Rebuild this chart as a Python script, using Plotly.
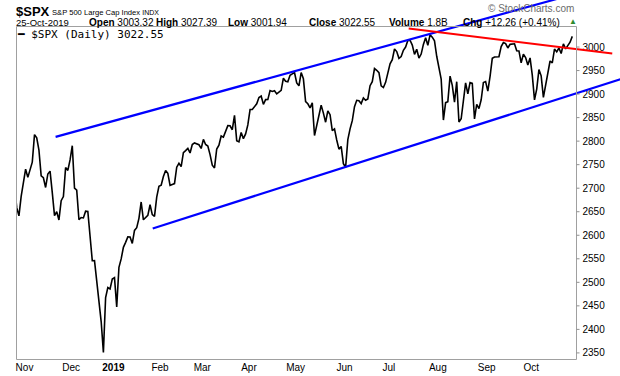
import plotly.graph_objects as go

# ---------------- DATA ----------------
# $SPX daily closes, 24-Oct-2018 .. 25-Oct-2019 (one value per trading day)
closes_2018_oct = [2656.10, 2705.57, 2658.69, 2641.25, 2682.63, 2711.74]
closes_2018_nov = [2740.37, 2723.06, 2738.31, 2755.45, 2813.89, 2806.83, 2781.01, 2726.22, 2722.18, 2701.58,
                   2730.20, 2736.27, 2690.73, 2641.89, 2649.93, 2632.56, 2673.45, 2682.17, 2743.79, 2737.80, 2760.17]
closes_2018_dec = [2790.37, 2700.06, 2695.95, 2633.08, 2637.72, 2636.78, 2651.07, 2650.54, 2599.95, 2545.94,
                   2546.16, 2506.96, 2467.42, 2416.62, 2351.10, 2467.70, 2488.83, 2485.74, 2506.85]
closes_2019_jan = [2510.03, 2447.89, 2531.94, 2549.69, 2574.41, 2584.96, 2596.64, 2596.26, 2582.61, 2610.30,
                   2616.10, 2635.96, 2670.71, 2632.90, 2638.70, 2642.33, 2664.76, 2643.85, 2640.00, 2681.05, 2704.10]
closes_2019_feb = [2706.53, 2724.87, 2737.70, 2731.61, 2706.05, 2707.88, 2709.80, 2744.73, 2753.03, 2745.73,
                   2775.60, 2779.76, 2784.70, 2774.88, 2792.67, 2796.11, 2793.90, 2792.38, 2784.49]
closes_2019_mar = [2803.69, 2792.81, 2789.65, 2771.45, 2748.93, 2743.07, 2783.30, 2791.52, 2810.92, 2808.48,
                   2822.48, 2832.94, 2832.57, 2824.23, 2854.88, 2800.71, 2798.36, 2818.46, 2805.37, 2815.44, 2834.40]
closes_2019_apr = [2867.19, 2867.24, 2873.40, 2879.39, 2892.74, 2895.77, 2878.20, 2888.21, 2888.32, 2907.41,
                   2905.58, 2907.06, 2900.45, 2905.03, 2907.97, 2933.68, 2927.25, 2926.17, 2939.88, 2943.03, 2945.83]
closes_2019_may = [2923.73, 2917.52, 2945.64, 2932.47, 2884.05, 2879.42, 2870.72, 2881.40, 2811.87, 2834.41,
                   2850.96, 2876.32, 2859.53, 2840.23, 2864.36, 2856.27, 2822.24, 2826.06, 2802.39, 2783.02,
                   2788.86, 2752.06]
closes_2019_jun = [2744.45, 2803.27, 2826.15, 2843.49, 2873.34, 2886.73, 2885.72, 2879.84, 2891.64, 2886.98,
                   2889.67, 2917.75, 2926.46, 2954.18, 2950.46, 2945.35, 2917.38, 2913.78, 2924.92, 2941.76]
closes_2019_jul = [2964.33, 2973.01, 2995.82, 2990.41, 2975.95, 2979.63, 2993.07, 2999.91, 3013.77, 3014.30,
                   3004.04, 2984.42, 2995.11, 2976.61, 2985.03, 3005.47, 3019.56, 3003.67, 3025.86, 3020.97,
                   3013.18, 2980.38]
closes_2019_aug = [2953.56, 2932.05, 2844.74, 2881.77, 2883.98, 2938.09, 2918.65, 2882.70, 2926.32, 2840.60,
                   2847.60, 2888.68, 2923.65, 2900.51, 2924.43, 2922.95, 2847.11, 2878.38, 2869.16, 2887.94,
                   2924.58, 2926.46]
closes_2019_sep = [2906.27, 2937.78, 2976.00, 2978.71, 2978.43, 2979.39, 3000.93, 3009.57, 3007.39, 2997.96,
                   3005.70, 3006.73, 3006.79, 2992.07, 2991.78, 2966.60, 2984.87, 2977.62, 2961.79, 2976.74]
closes_2019_oct = [2940.25, 2887.61, 2910.63, 2952.01, 2938.79, 2893.06, 2919.40, 2938.13, 2970.27, 2966.15,
                   2995.68, 2989.69, 2997.95, 2986.20, 3006.72, 2995.99, 3004.52, 3010.29, 3022.55]

# trading-day index of the first session of each month, and the labels
month_start_idx = [6, 27, 46, 67, 86, 107, 128, 150, 170, 192, 214, 234]
month_labels = ["Nov", "Dec", "<b>2019</b>", "Feb", "Mar", "Apr", "May", "Jun", "Jul", "Aug", "Sep", "Oct"]

# drawn trend lines: (trading-day index, price)
upper_channel_x = [19.5, 245.0]
upper_channel_y = [2809.0, 3102.0]
lower_channel_x = [63.2, 276.0]
lower_channel_y = [2614.5, 2935.0]
resistance_x = [178.4, 270.0]
resistance_y = [3039.3, 2986.2]

price_ticks = list(range(2350, 3001, 50))

# ---------------- FIGURE ----------------
closes = (closes_2018_oct + closes_2018_nov + closes_2018_dec + closes_2019_jan + closes_2019_feb +
          closes_2019_mar + closes_2019_apr + closes_2019_may + closes_2019_jun + closes_2019_jul +
          closes_2019_aug + closes_2019_sep + closes_2019_oct)
day_idx = list(range(len(closes)))

W, H = 620, 376
FL, FR, FT, FB = 16.5, 576.5, 26.5, 359.5        # frame of the price panel (px)
XR = [1.9, 253.9]                                  # visible trading-day range
YR = [2336.0, 3043.6]                              # visible price range
xpp = (XR[1] - XR[0]) / (FR - FL)
ypp = (YR[1] - YR[0]) / (FB - FT)
X2 = [XR[0] - FL * xpp, XR[1] + (W - FR) * xpp]    # same scale over the whole canvas (drawing tools are not clipped)
Y2 = [YR[0] - (H - FB) * ypp, YR[1] + FT * ypp]

FONT = "Liberation Sans, Arial, sans-serif"

fig = go.Figure()
fig.add_trace(go.Scatter(x=day_idx, y=closes, mode="lines",
                         line=dict(color="#000000", width=1.6),
                         xaxis="x", yaxis="y", hoverinfo="skip"))
for xs, ys, col, w in [(upper_channel_x, upper_channel_y, "#0000ff", 2.2),
                       (lower_channel_x, lower_channel_y, "#0000ff", 2.2),
                       (resistance_x, resistance_y, "#ff0000", 2.0)]:
    fig.add_trace(go.Scatter(x=xs, y=ys, mode="lines", line=dict(color=col, width=w),
                             xaxis="x2", yaxis="y2", hoverinfo="skip"))

# panel frame
fig.add_shape(type="rect", xref="paper", yref="paper",
              x0=FL / W, x1=FR / W, y0=1 - FB / H, y1=1 - FT / H,
              line=dict(color="#a0a0a0", width=1), fillcolor="rgba(0,0,0,0)", layer="above")
# y tick dashes right of the frame
for v in price_ticks:
    fig.add_shape(type="line", xref="paper", yref="y", x0=FR / W, x1=(FR + 3) / W, y0=v, y1=v,
                  line=dict(color="#909090", width=1), layer="above")

fig.update_layout(
    width=W, height=H, margin=dict(l=0, r=0, t=0, b=0),
    paper_bgcolor="white", plot_bgcolor="rgba(0,0,0,0)", showlegend=False,
    xaxis=dict(domain=[FL / W, FR / W], range=XR, showgrid=False, zeroline=False, showline=False,
               tickmode="array", tickvals=[i - 0.5 for i in month_start_idx], ticktext=month_labels,
               ticks="", tickfont=dict(family=FONT, size=10, color="#000")),
    yaxis=dict(domain=[1 - FB / H, 1 - FT / H], range=YR, side="right", showgrid=False, zeroline=False,
               showline=False, tickmode="array", tickvals=price_ticks, ticks="outside", ticklen=3,
               tickcolor="rgba(0,0,0,0)", tickfont=dict(family=FONT, size=10, color="#000")),
    xaxis2=dict(domain=[0, 1], range=X2, visible=False, anchor="y2"),
    yaxis2=dict(domain=[0, 1], range=Y2, visible=False, anchor="x2"),
)


def label(text, px, py, size=10, color="#000", family=FONT, xanchor="left"):
    fig.add_annotation(text=text, x=px / W, y=1 - py / H, xref="paper", yref="paper",
                       xanchor=xanchor, yanchor="middle", showarrow=False, borderpad=0,
                       font=dict(family=family, size=size, color=color))


label("<b>$SPX</b>", 15, 11, size=13)
label("S&P 500 Large Cap Index <span style='font-size:7px'>INDX</span>", 51, 12.5, size=7.6)
label("© StockCharts.com", 487, 9, size=10, color="#6b6b6b")
label("25-Oct-2019", 15, 22.5, size=9.5)
label("<b>Open</b> 3003.32", 88, 22.5)
label("<b>High</b> 3027.39", 155, 22.5)
label("<b>Low</b> 3001.94", 227, 22.5)
label("<b>Close</b> 3022.55", 308, 22.5)
label("<b>Volume</b> 1.8B", 388, 22.5)
label("<b>Chg</b> +12.26 (+0.41%)", 462, 22.5)
label("▲", 568, 21.5, size=8, color="#2e8b2e")
label("<b>━</b> $SPX (Daily) 3022.55", 16, 34.5, size=11, family="DejaVu Sans Mono, monospace")

fig.write_html("out.html", config={"displayModeBar": False},
               post_script="document.body.style.margin='0';document.body.style.overflow='hidden';")
